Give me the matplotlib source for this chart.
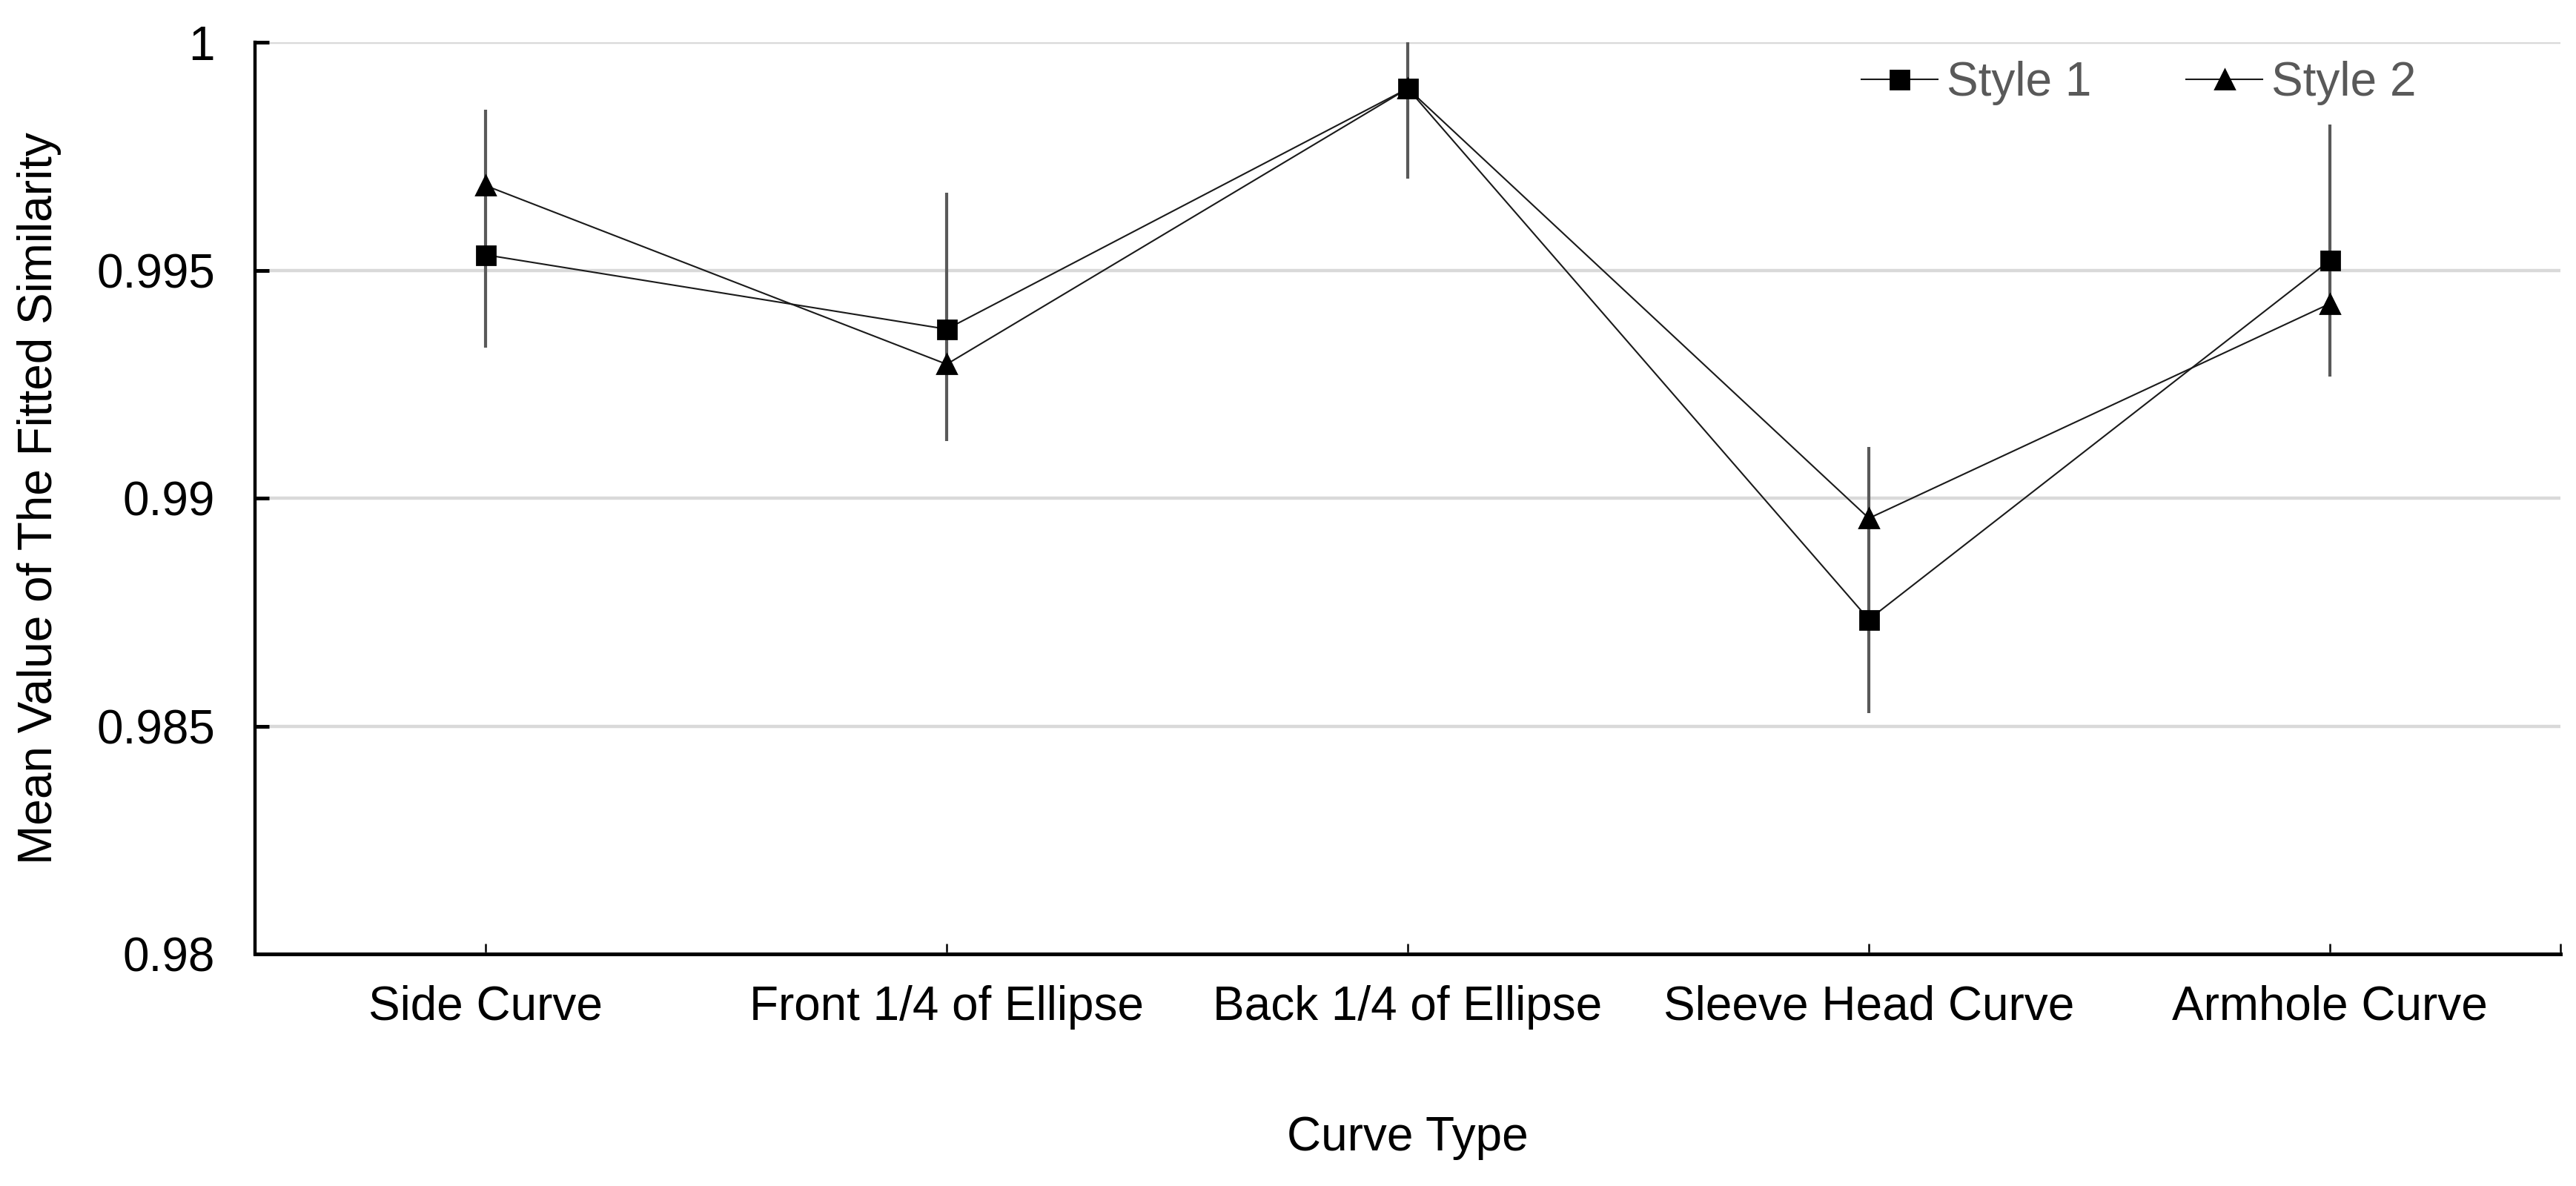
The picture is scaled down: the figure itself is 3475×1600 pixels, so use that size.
import matplotlib.pyplot as plt
from matplotlib.ticker import FormatStrFormatter, FuncFormatter

# values
curve_types = ["Side Curve", "Front 1/4 of Ellipse", "Back 1/4 of Ellipse",
               "Sleeve Head Curve", "Armhole Curve"]
style1 = [0.99534, 0.99371, 0.99899, 0.98734, 0.99522]
style2 = [0.99686, 0.99294, 0.99899, 0.98956, 0.99427]
# vertical error-bar extent drawn at each category
err_low = [0.99331, 0.99125, 0.99702, 0.98529, 0.99267]
err_high = [0.99853, 0.99671, 1.0, 0.99113, 0.99820]
y_ticks = [0.98, 0.985, 0.99, 0.995, 1.0]

plt.rcParams['font.family'] = ['Liberation Sans', 'DejaVu Sans']
plt.rcParams['font.size'] = 23

fig = plt.figure(figsize=(17.375, 8), dpi=200)
ax = fig.add_axes([0.099, 0.1956, 0.895, 0.7686])

x = list(range(len(curve_types)))

ax.vlines(x, err_low, err_high, color='#595959', lw=1.5, zorder=3)
ax.plot(x, style2, color='#1a1a1a', lw=0.75, marker='^', ms=9.5,
        mfc='black', mec='black', label='Style 2', zorder=4)
ax.plot(x, style1, color='#1a1a1a', lw=0.75, marker='s', ms=9,
        mfc='black', mec='black', label='Style 1', zorder=5)

ax.set_xlim(-0.5, 4.5)
ax.set_ylim(0.98, 1.0)
ax.set_yticks(y_ticks)
ax.yaxis.set_major_formatter(FuncFormatter(lambda v, p: f"{v:g}"))
ax.set_xticks(x + [4.5])
ax.set_xticklabels(curve_types + [''])

ax.grid(axis='y', color='#d9d9d9', lw=1.6, zorder=0)
ax.set_axisbelow(True)
for s in ('top', 'right'):
    ax.spines[s].set_visible(False)
ax.spines['left'].set_linewidth(1.6)
ax.spines['bottom'].set_linewidth(1.8)

ax.tick_params(axis='x', direction='in', length=5, width=0.9, pad=15, colors='black')
ax.tick_params(axis='y', direction='in', length=7, width=1.8, pad=19.5, colors='black')

ax.set_xlabel('Curve Type', labelpad=42)
ax.set_ylabel('Mean Value of The Fitted Similarity', labelpad=17)

h, l = ax.get_legend_handles_labels()
leg = fig.legend(h[::-1], l[::-1], loc='center', bbox_to_anchor=(0.8304, 0.930),
                 ncol=2, frameon=False, handlelength=1.6, handletextpad=0.2,
                 columnspacing=2.0, numpoints=1)
for t in leg.get_texts():
    t.set_color('#595959')

fig.savefig('out.png', dpi=200)
